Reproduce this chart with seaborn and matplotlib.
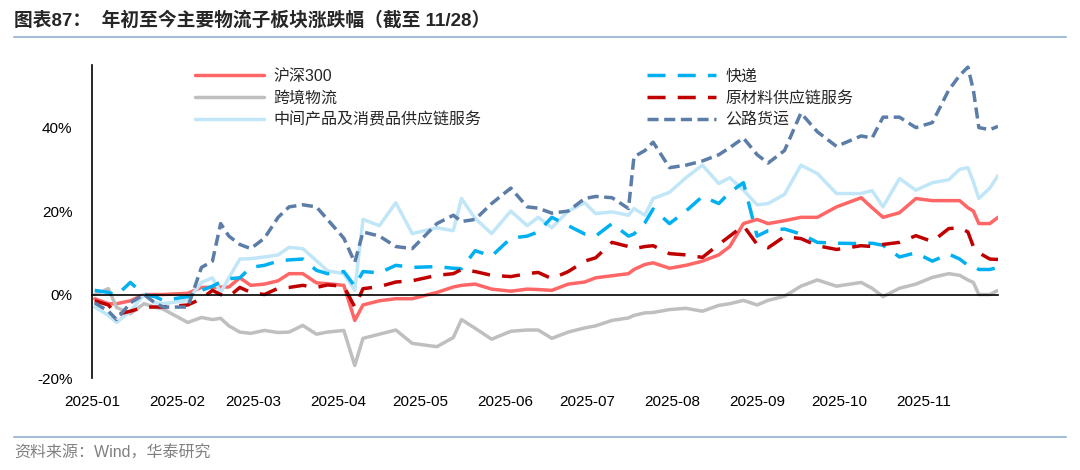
import matplotlib
matplotlib.use('Agg')
import matplotlib.pyplot as plt
import matplotlib.dates as mdates
from matplotlib.ticker import PercentFormatter, FixedLocator
from matplotlib.lines import Line2D
import seaborn as sns
import pandas as pd

# ---- data (% change since start of year) ----
dates = ['2025-01-02', '2025-01-07', '2025-01-10', '2025-01-15', '2025-01-20', '2025-01-24', '2025-01-27',
         '2025-02-05', '2025-02-10', '2025-02-14', '2025-02-17', '2025-02-20', '2025-02-24', '2025-02-28',
         '2025-03-05', '2025-03-10', '2025-03-14', '2025-03-19', '2025-03-24', '2025-03-28',
         '2025-04-03', '2025-04-07', '2025-04-10', '2025-04-16', '2025-04-22', '2025-04-28',
         '2025-05-07', '2025-05-13', '2025-05-16', '2025-05-21', '2025-05-27',
         '2025-06-03', '2025-06-09', '2025-06-13', '2025-06-18', '2025-06-24', '2025-06-30',
         '2025-07-04', '2025-07-10', '2025-07-16', '2025-07-18', '2025-07-22', '2025-07-25', '2025-07-31',
         '2025-08-06', '2025-08-12', '2025-08-18', '2025-08-22', '2025-08-27',
         '2025-09-01', '2025-09-05', '2025-09-11', '2025-09-17', '2025-09-23', '2025-09-30',
         '2025-10-09', '2025-10-13', '2025-10-17', '2025-10-23', '2025-10-29',
         '2025-11-04', '2025-11-10', '2025-11-14', '2025-11-17', '2025-11-19', '2025-11-21', '2025-11-25', '2025-11-28']

hs300 = [-1, -2.2, -2.2, -1.5, 0, 0, 0,
         0.3, 1.7, 1.7, 1.8, 1.8, 4, 2.2,
         2.5, 3.3, 5, 5, 2.8, 2.6,
         2.2, -6.2, -2.5, -1.5, -1, -1,
         0.5, 1.8, 2.2, 2.5, 1.3,
         0.8, 1.3, 1.2, 1, 2.5, 3,
         4, 4.5, 5, 6, 7.2, 7.6, 6.3,
         7, 8, 9.5, 11.5, 17,
         18, 17, 17.7, 18.5, 18.5, 21,
         23.2, 20.8, 18.5, 19.6, 23,
         22.5, 22.5, 22.5, 20.8, 20, 17, 17, 18.5]

kuajing = [0, 1.4, -3.1, -4.6, -2.2, -3, -3.5,
           -6.7, -5.5, -6, -5.7, -7.5, -9, -9.3,
           -8.6, -9.1, -9, -7.4, -9.5, -9,
           -8.6, -17, -10.5, -9.5, -8.5, -11.7,
           -12.5, -10.3, -6, -8.1, -10.7,
           -8.8, -8.5, -8.5, -10.5, -9, -8,
           -7.5, -6.2, -5.6, -5, -4.4, -4.3, -3.6,
           -3.3, -4, -2.6, -2.2, -1.4,
           -2.5, -1.4, -0.4, 2, 3.5, 2,
           2.9, 1.5, -0.5, 1.5, 2.5,
           4.1, 5, 4.6, 3.5, 2.9, 0, 0, 1]

zhongjian = [-3, -5, -6.7, -4, 0, -2, -2.2,
             -1.4, 2.9, 4, 0.5, 4, 8.5, 8.6,
             9, 9.5, 11.3, 11, 8.1, 5.7,
             5, 1, 18, 16.5, 22, 14.6,
             16, 15.3, 23, 18.2, 14.6,
             20, 16.5, 18.5, 16, 20, 22,
             19.4, 19.8, 19, 20.6, 19, 23, 24.5,
             28, 31, 26.6, 28, 25,
             21.5, 21.8, 24, 31, 29, 24.2,
             24.2, 24.9, 21, 27.8, 25,
             26.8, 27.5, 30, 30.4, 27, 23, 25.5, 28.5]

kuaidi = [1, 0.5, -0.2, 2.9, 0, -0.5, -1.4,
          -0.5, 1, 2, 3, 3.8, 4, 6.5,
          7, 8, 8.3, 8.5, 5.8, 5,
          5.5, 2, 5.5, 5.2, 7, 6.5,
          6.7, 6.3, 6.2, 10.5, 9.2,
          13.5, 14, 15, 18.5, 16.5, 14.5,
          14, 17, 14, 14.5, 17.2, 20.5, 17,
          20, 23.5, 21.8, 24.5, 26.8,
          14, 15.3, 15.7, 14.5, 12.5, 12.3,
          12.2, 12.3, 11.8, 9, 10,
          8, 9.7, 8.5, 7, 6.9, 6, 6, 6.5]

yuancailiao = [-1.5, -2.5, -4.8, -4, -3, -3, -3,
               -2.5, -1, 1, 0, -0.5, 1.7, 0.5,
               0, 1.5, 1.7, 2.2, 1.7, 2.3,
               2, -3, 1.4, 1.9, 3, 3.3,
               4.6, 5, 6, 5.5, 4.6,
               4.3, 5, 5.3, 3.8, 5.5, 8,
               8.8, 12.5, 11.5, 11, 11.5, 11.7, 9.8,
               9.5, 8.9, 12, 14, 16.5,
               12, 11.2, 13.9, 13.4, 11.7, 10.8,
               11.7, 11.5, 12, 12.5, 14.1,
               12.7, 15.8, 16, 15, 11.5, 10, 8.5, 8.4]

gonglu = [-2, -4, -6, -2, 0, -2, -3,
          -3, 6.5, 8, 17, 14, 12, 11,
          13.5, 18.5, 21, 21.5, 21, 18,
          13.5, 7.7, 15, 14, 11.5, 11,
          17, 19, 17.5, 18, 21.8,
          25.5, 21, 20.7, 19.5, 20, 23,
          23.5, 23.2, 20.6, 33, 34.5, 36.5, 30.4,
          31, 32, 33.5, 35.2, 37.5,
          33.5, 31.5, 34.5, 43.5, 39, 35.5,
          38, 37.5, 42.5, 42.5, 40,
          41.2, 49, 52.5, 54.5, 49, 40, 39.5, 40.3]

series_names = ['沪深300', '跨境物流', '中间产品及消费品供应链服务', '快递', '原材料供应链服务', '公路货运']
colors = {'沪深300': '#FF6666', '跨境物流': '#BFBFBF', '中间产品及消费品供应链服务': '#C0E6F8',
          '快递': '#00B0F0', '原材料供应链服务': '#C00000', '公路货运': '#5B7DA8'}
dash_map = {'沪深300': '', '跨境物流': '', '中间产品及消费品供应链服务': '',
            '快递': (5.2, 3.5), '原材料供应链服务': (5.2, 3.5), '公路货运': (3.2, 1.6)}

df = pd.DataFrame({'日期': pd.to_datetime(dates), '沪深300': hs300, '跨境物流': kuajing,
                   '中间产品及消费品供应链服务': zhongjian, '快递': kuaidi,
                   '原材料供应链服务': yuancailiao, '公路货运': gonglu})
df_long = df.melt(id_vars='日期', var_name='板块', value_name='涨跌幅')

# ---- style ----
sns.set_style('white')
plt.rcParams['font.family'] = ['Liberation Sans', 'Noto Sans CJK SC']
plt.rcParams['axes.unicode_minus'] = False

W, H = 1080, 470
fig = plt.figure(figsize=(W / 100, H / 100), dpi=100)
ax = fig.add_axes([92 / W, 92 / H, 906 / W, 313 / H])

sns.lineplot(data=df_long, x='日期', y='涨跌幅', hue='板块', style='板块',
             hue_order=series_names, style_order=series_names,
             palette=colors, dashes=dash_map, linewidth=2.5, ax=ax)

# ejes
ax.set_xlim(pd.Timestamp('2025-01-01'), pd.Timestamp('2025-11-28'))
ax.set_ylim(-20, 55)
ax.yaxis.set_major_locator(FixedLocator([-20, 0, 20, 40]))
ax.yaxis.set_major_formatter(PercentFormatter(decimals=0))
ax.xaxis.set_major_locator(mdates.MonthLocator())
ax.xaxis.set_major_formatter(mdates.DateFormatter('%Y-%m'))
ax.spines['bottom'].set_position(('data', 0))
for s in ['top', 'right']:
    ax.spines[s].set_visible(False)
for s in ['left', 'bottom']:
    ax.spines[s].set_color('black')
    ax.spines[s].set_linewidth(1.2)
ax.tick_params(axis='x', direction='out', length=4, width=1, pad=68, labelsize=11, colors='black')
ax.tick_params(axis='y', direction='out', length=5, width=1, pad=9, labelsize=11, colors='black')
ax.set_xlabel('')
ax.set_ylabel('')

# leyenda en dos columnas
old = ax.get_legend()
handles = old.legend_handles
labels = [t.get_text() for t in old.get_texts()]
for h in handles:
    h.set_linewidth(2.5)
ax.legend(handles, labels, ncol=2, loc='upper left',
          bbox_to_anchor=(195 / W, 1 - 69 / H), bbox_transform=fig.transFigure,
          frameon=False, fontsize=11.5, handlelength=4.3, handletextpad=0.6,
          columnspacing=10.4, labelspacing=0.42, borderpad=0, borderaxespad=0)

# titulo y fuente
fig.text(14 / W, 1 - 20 / H, '图表87：  年初至今主要物流子板块涨跌幅（截至 11/28）',
         fontsize=13.5, fontweight='bold', va='center', ha='left')
fig.add_artist(Line2D([14 / W, 1066 / W], [1 - 37 / H] * 2, color='#A6BDD7', lw=1.5,
                      transform=fig.transFigure))
fig.add_artist(Line2D([14 / W, 1066 / W], [1 - 437 / H] * 2, color='#A6BDD7', lw=1.5,
                      transform=fig.transFigure))
fig.text(14 / W, 1 - 453 / H, '资料来源：Wind，华泰研究', fontsize=11.5, color='#808080',
         va='center', ha='left')

fig.savefig('out.png', dpi=100)
